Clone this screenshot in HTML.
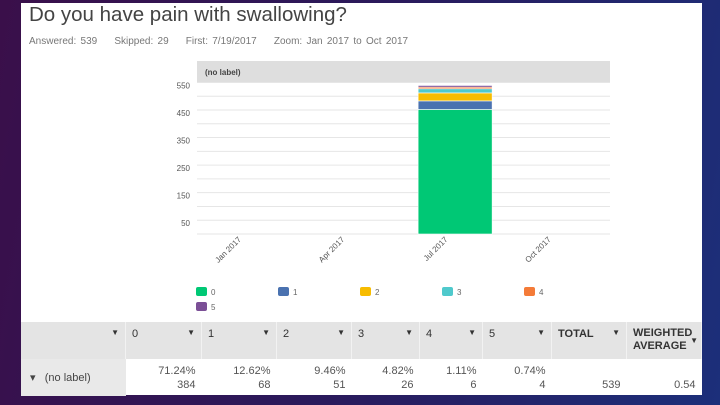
<!DOCTYPE html>
<html><head><meta charset="utf-8"><style>
body{margin:0;width:720px;height:405px;overflow:hidden;background:linear-gradient(100deg,#3a0f4a 0%,#2a1a5c 50%,#1c2f7a 100%);font-family:"Liberation Sans",sans-serif;}
#panel{position:absolute;left:21px;top:3px;width:681px;height:392px;background:#fff;}
.t{position:absolute;white-space:nowrap}
table{position:absolute;left:21px;top:322px;width:681px;border-collapse:collapse;font-size:11px;color:#333}
th{background:#e4e4e4;text-align:left;font-weight:normal;vertical-align:top;padding:6px 6px;height:24px;border-right:1px solid #f2f2f2;position:relative}
th .ar{position:absolute;right:6px;top:6px;font-size:8px}
td{text-align:right;padding:2px 6px;height:33px;color:#555;font-size:11px;line-height:14px}
</style></head><body>
<div id="panel"></div>
<div class="t" style="left:29px;top:3px;font-size:20.5px;color:#444;font-weight:300">Do you have pain with swallowing?</div>
<div class="t" style="left:29px;top:36px;font-size:10px;color:#777;word-spacing:1.5px">Answered: 539&nbsp;&nbsp;&nbsp;&nbsp;Skipped: 29&nbsp;&nbsp;&nbsp;&nbsp;First: 7/19/2017&nbsp;&nbsp;&nbsp;&nbsp;Zoom: Jan 2017 to Oct 2017</div>
<svg id="chart" width="720" height="320" style="position:absolute;left:0;top:0" font-family="Liberation Sans, sans-serif"></svg>
<table>
<tr style="height:36px">
<th style="width:92px"><span class="ar">▼</span></th>
<th style="width:63px">0<span class="ar">▼</span></th>
<th style="width:62px">1<span class="ar">▼</span></th>
<th style="width:62px">2<span class="ar">▼</span></th>
<th style="width:55px">3<span class="ar">▼</span></th>
<th style="width:50px">4<span class="ar">▼</span></th>
<th style="width:56px">5<span class="ar">▼</span></th>
<th style="width:62px;font-weight:bold">TOTAL<span class="ar">▼</span></th>
<th style="font-weight:bold;padding-top:5px;line-height:13px">WEIGHTED<br>AVERAGE<span class="ar" style="top:12px;right:3px">▼</span></th>
</tr>
<tr>
<td style="background:#e9e9e9;text-align:left;color:#444">&nbsp;▾&nbsp;&nbsp;&nbsp;(no label)</td>
<td>71.24%<br>384</td>
<td>12.62%<br>68</td>
<td>9.46%<br>51</td>
<td>4.82%<br>26</td>
<td>1.11%<br>6</td>
<td>0.74%<br>4</td>
<td><br>539</td>
<td><br>0.54</td>
</tr></table>
<script>
const categories=["Jan 2017","Apr 2017","Jul 2017","Oct 2017"];
const seriesNames=["0","1","2","3","4","5"];
const seriesColors=["#00c875","#4a72b0","#f7bc00","#4fc9cc","#f47b38","#7b4f96"];
const values0=[0,0,452,0];
const values1=[0,0,31,0];
const values2=[0,0,29,0];
const values3=[0,0,15,0];
const values4=[0,0,6,0];
const values5=[0,0,6,0];
const yTicks=[50,150,250,350,450,550];
const series=[values0,values1,values2,values3,values4,values5];
const svg=document.getElementById('chart');const NS='http://www.w3.org/2000/svg';
const X0=197,X1=610,Y0=234,YT=83,YMAX=548;
function y(v){return Y0-v/YMAX*(Y0-YT);}
function xc(i){return X0+(X1-X0)/categories.length*(i+0.5);}
function mk(t,a){const e=document.createElementNS(NS,t);for(const k in a)e.setAttribute(k,a[k]);svg.appendChild(e);return e;}
let e=mk('rect',{x:X0,y:61,width:X1-X0,height:22,fill:'#dedede'});


e=mk('text',{x:205,y:75,'font-size':8,'font-weight':'bold',fill:'#444'});e.textContent='(no label)';


for(let v=0;v<=550;v+=50){const g=mk('line',{x1:X0,x2:X1,y1:y(v),y2:y(v),stroke:'#e6e6e6','stroke-width':1});

}
yTicks.forEach(v=>{const t=mk('text',{x:190,y:y(v)+6,'font-size':8,fill:'#555','text-anchor':'end'});t.textContent=v;

});
const bw=74;
categories.forEach((c,i)=>{let acc=0;series.forEach((s,k)=>{const v=s[i];if(v>0){const r=mk('rect',{x:xc(i)-bw/2,y:y(acc+v),width:bw,height:y(acc)-y(acc+v),fill:seriesColors[k],stroke:'#fff','stroke-width':0.6});

}acc+=v;});
const cx=xc(i)-7;const t=mk('text',{x:cx,y:240,'font-size':8,fill:'#555','text-anchor':'end',transform:`rotate(-45 ${cx} 240)`});t.textContent=c;

});
seriesNames.forEach((n,k)=>{const lx=196+(k%5)*82,ly=287+Math.floor(k/5)*15;
const r=mk('rect',{x:lx,y:ly,width:11,height:9,rx:2,fill:seriesColors[k]});


const t=mk('text',{x:lx+15,y:ly+8,'font-size':8,fill:'#666'});t.textContent=n;

});
</script>
</body></html>
